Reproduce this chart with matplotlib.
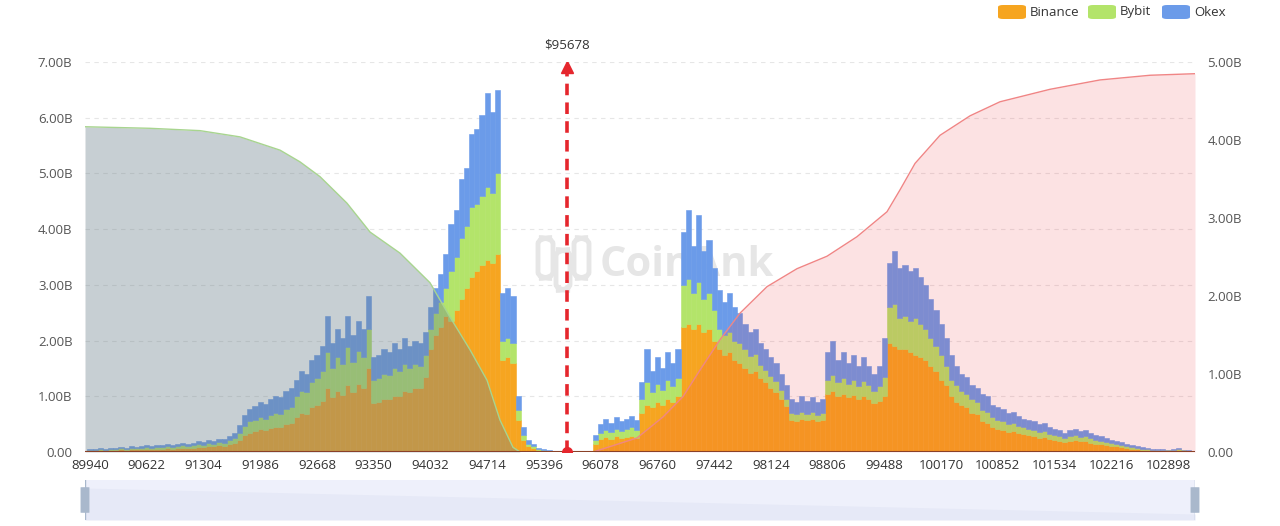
import numpy as np
import matplotlib.pyplot as plt
from matplotlib.patches import FancyBboxPatch
from matplotlib.ticker import FuncFormatter

plt.rcParams['font.family'] = ['Open Sans', 'DejaVu Sans']

price_step = 62
left_start = 89940
right_start = 96016
current_price = 95678

# liquidation below current price (B)
left_binance = [.03, .03, .04, .03, .04, .04, .05, .04, .05, .05,
                .05, .06, .05, .06, .06, .07, .06, .07, .08, .07,
                .08, .09, .09, .11, .10, .12, .11, .14,
                .16, .22, .30, .35, .37, .41, .39, .43, .45, .44, .50, .52,
                .63, .70, .68, .80, .85, .92, 1.15, .98, 1.10, 1.03, 1.20, 1.08, 1.22, 1.15, 1.50,
                .88, .90, .95, .95, 1.00, 1.00, 1.10, 1.08, 1.15, 1.15, 1.35,
                1.85, 2.10, 2.25, 2.45,
                2.35, 2.55, 2.75, 2.95, 3.15, 3.25, 3.35, 3.45, 3.40, 3.55,
                1.65, 1.70, 1.60, .57, .22, .10, .07, .04, .02, .01, .00]
left_bybit = [.01, .01, .01, .01, .02, .01, .02, .02, .02, .02,
              .02, .03, .03, .03, .03, .03, .03, .04, .04, .03,
              .04, .05, .04, .05, .05, .06, .06, .07,
              .09, .12, .16, .20, .20, .22, .21, .24, .25, .25, .27, .29,
              .37, .40, .40, .46, .48, .53, .65, .52, .60, .55, .68, .54, .60, .55, .70,
              .42, .43, .45, .43, .50, .45, .48, .42, .43, .40, .40,
              .35, .40, .45, .50,
              .90, .95, 1.10, 1.10, 1.25, 1.20, 1.25, 1.30, 1.25, 1.45,
              .35, .35, .35, .18, .08, .04, .03, .01, .01, .01, .01]
left_okex = [.01, .02, .02, .02, .02, .02, .02, .02, .03, .02,
             .03, .03, .03, .04, .03, .04, .04, .04, .05, .04,
             .05, .05, .05, .06, .05, .06, .06, .07,
             .10, .14, .20, .23, .25, .27, .26, .28, .30, .29, .33, .34,
             .30, .35, .32, .39, .42, .45, .65, .45, .50, .47, .57, .48, .53, .50, .60,
             .40, .42, .45, .42, .45, .40, .47, .40, .42, .40, .40,
             .40, .45, .50, .60,
             .85, .85, 1.05, 1.05, 1.30, 1.35, 1.45, 1.70, 1.45, 1.50,
             .85, .90, .85, .25, .15, .08, .05, .03, .02, .01, .00]

# liquidation above current price (B)
right_binance = [.15, .23, .27, .24, .28, .25, .27, .29, .26,
                 .70, .85, .80, .90, .85, .95, .90, 1.00,
                 2.25, 2.30, 2.20, 2.30, 2.15, 2.20, 2.00,
                 1.85, 1.75, 1.80, 1.65, 1.60,
                 1.50, 1.42, 1.45, 1.32, 1.25, 1.15, 1.08, .95, .82,
                 .58, .56, .60, .57, .59, .55, .57,
                 1.05, 1.10, 1.00, 1.05, .98, 1.02, .95, 1.00, .95, .88, .92, 1.00,
                 1.95, 1.90, 1.85, 1.85, 1.80, 1.75, 1.70, 1.65, 1.55, 1.45, 1.30, 1.20,
                 1.00, .90, .85, .80, .70, .68, .55, .52, .45, .42, .40, .36, .37,
                 .34, .32, .30, .28, .26, .27, .23, .21, .20, .18,
                 .20, .21, .19, .20, .17, .15, .14,
                 .12, .11, .10, .09, .07, .06, .05, .04, .04,
                 .03, .02, .02, .02, .02, .03, .02, .01, .00]
right_bybit = [.06, .11, .13, .12, .14, .13, .14, .15, .14,
               .25, .40, .28, .32, .27, .35, .28, .32,
               .75, .80, .65, .75, .60, .65, .55,
               .35, .35, .35, .35, .35,
               .35, .30, .31, .25, .23, .22, .20, .17, .14,
               .12, .12, .12, .12, .12, .12, .13,
               .25, .28, .25, .27, .24, .28, .23, .28, .25, .22, .26, .35,
               .65, .75, .55, .60, .55, .65, .60, .55, .50, .45, .45, .35,
               .30, .30, .25, .25, .25, .22, .20, .20, .17, .16, .16, .14, .15,
               .13, .12, .12, .12, .10, .11, .10, .09, .09, .07,
               .09, .09, .08, .09, .08, .07, .06,
               .06, .05, .04, .04, .04, .03, .02, .02, .02,
               .01, .01, .01, .01, .01, .02, .01, .01, .00]
right_okex = [.09, .16, .20, .16, .20, .17, .19, .21, .18,
              .30, .60, .37, .48, .38, .50, .42, .53,
              .95, 1.25, .85, 1.20, .85, .95, .75,
              .70, .60, .70, .60, .55,
              .45, .43, .44, .38, .37, .33, .32, .28, .24,
              .25, .22, .28, .23, .27, .23, .25,
              .50, .62, .40, .48, .38, .45, .37, .42, .35, .30, .37, .70,
              .80, .95, .90, .90, .90, .90, .85, .80, .70, .65, .55, .50,
              .45, .35, .30, .30, .25, .25, .30, .28, .23, .22, .22, .20, .20,
              .18, .16, .16, .15, .14, .14, .12, .12, .11, .10,
              .11, .12, .11, .11, .10, .08, .08,
              .07, .06, .06, .05, .04, .03, .03, .03, .02,
              .02, .02, .02, .01, .02, .02, .01, .01, .01]

# cumulative curves (right axis, B)
short_cum_price = [89880, 90661, 91262, 91743, 92224, 92464, 92705, 93029, 93306,
                   93666, 94027, 94267, 94508, 94712, 94868, 95024, 95109, 95678]
short_cum = [4.17, 4.15, 4.12, 4.04, 3.87, 3.72, 3.53, 3.19, 2.82,
             2.55, 2.17, 1.73, 1.31, 0.92, 0.41, 0.06, 0.0, 0.0]
long_cum_price = [95678, 95986, 96515, 96828, 97068, 97272, 97513, 97753, 98078, 98438,
                  98799, 99159, 99520, 99676, 99857, 100157, 100518, 100878,
                  101479, 102080, 102681, 103222]
long_cum = [0.0, 0.0, 0.18, 0.45, 0.71, 1.05, 1.44, 1.78, 2.12, 2.35,
            2.51, 2.76, 3.08, 3.36, 3.70, 4.06, 4.31, 4.49,
            4.65, 4.77, 4.83, 4.85]

x_ticks = [89940, 90622, 91304, 91986, 92668, 93350, 94032, 94714, 95396, 96078,
           96760, 97442, 98124, 98806, 99488, 100170, 100852, 101534, 102216, 102898]

c_binance = '#f6a520'
c_bybit = '#b3e46a'
c_okex = '#6b9be9'
red = '#e5262d'

W, H = 1280, 526
fig = plt.figure(figsize=(W / 100, H / 100), dpi=100)

# watermark
fig.text(600 / W, 1 - 266 / H, 'CoinAnk', fontsize=30, fontweight='bold',
         color='#e6e6e6', va='center', ha='left', zorder=-1)
for (x0, y0, w, h) in [(538, 238, 15, 40), (556, 250, 14, 40), (574, 238, 15, 40)]:
    fig.patches.append(FancyBboxPatch((x0 / W, 1 - (y0 + h) / H), w / W, h / H,
                                      boxstyle='round,pad=0,rounding_size=0.011',
                                      transform=fig.transFigure, fill=False,
                                      ec='#e6e6e6', lw=3.5, zorder=-1))

ax = fig.add_axes([85 / W, 74 / H, 1110 / W, 390 / H])
ax.patch.set_alpha(0)

for start, bn, bb, ok in [(left_start, left_binance, left_bybit, left_okex),
                          (right_start, right_binance, right_bybit, right_okex)]:
    pos = start + price_step * np.arange(len(bn))
    bn = np.array(bn)
    bb = np.array(bb)
    ok = np.array(ok)
    ax.bar(pos, bn, width=price_step, color=c_binance, ec=c_binance, lw=0.4, zorder=2)
    ax.bar(pos, bb, bottom=bn, width=price_step, color=c_bybit, ec=c_bybit, lw=0.4, zorder=2)
    ax.bar(pos, ok, bottom=bn + bb, width=price_step, color=c_okex, ec=c_okex, lw=0.4, zorder=2)

ax.set_xlim(89880, 103222)
ax.set_ylim(0, 7)
ax.set_yticks(range(8))
ax.yaxis.set_major_formatter(FuncFormatter(lambda v, p: '0.00' if v == 0 else f'{v:.2f}B'))
ax.set_xticks(x_ticks)
ax.set_xticklabels([str(t) for t in x_ticks])
ax.grid(axis='y', linestyle=(0, (4, 4)), color='#e6e6e6', lw=0.8, zorder=0)
ax.tick_params(axis='both', length=0, labelsize=9.5, labelcolor='#555555')
ax.tick_params(axis='y', pad=9)
ax.tick_params(axis='x', pad=5, labelcolor='#333333')
for s in ax.spines.values():
    s.set_visible(False)

ax2 = ax.twinx()
ax2.patch.set_alpha(0)
ax2.set_ylim(0, 5)
ax2.set_yticks(range(6))
ax2.yaxis.set_major_formatter(FuncFormatter(lambda v, p: '0.00' if v == 0 else f'{v:.2f}B'))
ax2.tick_params(axis='y', length=0, labelsize=9.5, labelcolor='#555555', pad=9)
for s in ax2.spines.values():
    s.set_visible(False)

ax2.fill_between(short_cum_price, short_cum, color='#6e828c', alpha=0.38, lw=0, zorder=3)
ax2.plot(short_cum_price, short_cum, color='#a8d58f', lw=1.0, zorder=4)
ax2.fill_between(long_cum_price, long_cum, color='#f0323c', alpha=0.14, lw=0, zorder=3)
ax2.plot(long_cum_price, long_cum, color='#f08585', lw=1.0, zorder=4)

ax2.axhline(0, color='#8a4128', lw=1.5, zorder=5)

# current price marker
ax2.plot([current_price, current_price], [0, 4.9], color=red, lw=2.6,
         linestyle=(0, (3.2, 2)), zorder=6)
ax2.plot(current_price, 4.93, marker='^', ms=8, color=red, zorder=6)
ax2.plot(current_price, 0, marker='o', ms=7, color=red, zorder=7)
ax2.text(current_price, 5.22, f'${current_price}', ha='center', va='center',
         fontsize=9.5, color='#333333')

# legend
for name, col, x0 in [('Binance', c_binance, 998), ('Bybit', c_bybit, 1088), ('Okex', c_okex, 1162)]:
    fig.patches.append(FancyBboxPatch((x0 / W, 1 - 19 / H), 28 / W, 14 / H,
                                      boxstyle='round,pad=0,rounding_size=0.004',
                                      transform=fig.transFigure, fc=col, ec='none'))
    fig.text((x0 + 32) / W, 1 - 12 / H, name, fontsize=9.5, color='#333333',
             va='center', ha='left')

# zoom slider
sl = fig.add_axes([85 / W, 6 / H, 1110 / W, 40 / H])
sl.set_xlim(0, 1)
sl.set_ylim(0, 1)
sl.axis('off')
sl.fill_between([0, 1], [0, 0], [1, 1], color='#eef0fb', lw=0)
sl.fill_between([0, 1], [0, 0], [0.8, 0.15], color='#e6e9f7', lw=0)
for hx in (0, 1):
    sl.plot([hx, hx], [0, 1], color='#a9b8cc', lw=1)
    sl.add_patch(FancyBboxPatch((hx - 0.004, 0.18), 0.008, 0.64,
                                boxstyle='round,pad=0,rounding_size=0.003',
                                fc='#a9b8cc', ec='none', clip_on=False))

fig.savefig('out.png', dpi=100)
